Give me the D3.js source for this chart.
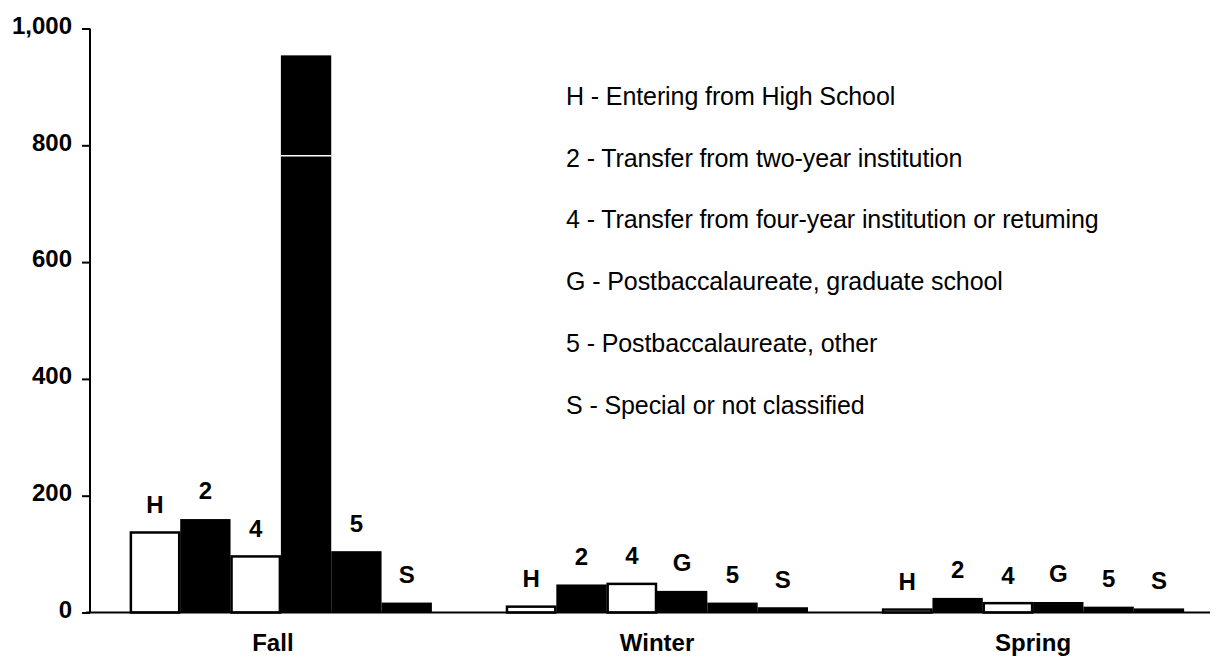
<!DOCTYPE html>
<html>
<head>
<meta charset="utf-8">
<script src="https://cdn.jsdelivr.net/npm/d3@7"></script>
<style>
  html, body { margin: 0; padding: 0; background: #fff; }
  svg { display: block; font-family: "Liberation Sans", Arial, Helvetica, sans-serif; }
</style>
</head>
<body>
<svg id="chart" width="1217" height="660"></svg>
<script>
// ---- data ----
const terms = ["Fall", "Winter", "Spring"];
const codes = ["H", "2", "4", "G", "5", "S"];
const fallValues   = [137, 160, 96, 954, 105, 17];
const winterValues = [10, 48, 49, 37, 17, 9];
const springValues = [5, 25, 16, 18, 10, 7];
const fallGSegments = [782, 172];           // big Fall G bar drawn as two stacked pieces
const hiddenLabels = [["Fall", "G"]];       // bar letters not printed
const codeFill = { H: "#fff", "2": "#000", "4": "#fff", G: "#000", "5": "#000", S: "#000" };
const yTicks = [0, 200, 400, 600, 800, 1000];
const legendLines = [
  "H - Entering from High School",
  "2 - Transfer from two-year institution",
  "4 - Transfer from four-year institution or retuming",
  "G - Postbaccalaureate, graduate school",
  "5 - Postbaccalaureate, other",
  "S - Special or not classified"
];

const valuesByTerm = { Fall: fallValues, Winter: winterValues, Spring: springValues };
const rows = [];
terms.forEach(t => codes.forEach((c, i) => rows.push({ term: t, code: c, value: valuesByTerm[t][i] })));

// ---- layout ----
const svg = d3.select("#chart");
const axisX = 90, baseY = 612.5, topY = 28.5;

const y = d3.scaleLinear().domain([0, 1000]).range([baseY, topY]);
const x0 = d3.scaleBand().domain(terms).range([axisX, 1224]).paddingInner(0.197).paddingOuter(0.106);
const x1 = d3.scaleBand().domain(codes).range([0, x0.bandwidth()]).padding(0);

// bars
const g = svg.append("g");
rows.forEach(d => {
  const bx = x0(d.term) + x1(d.code);
  if (d.term === "Fall" && d.code === "G") {
    let acc = 0;
    fallGSegments.forEach(v => {
      g.append("rect")
        .attr("x", bx).attr("width", x1.bandwidth())
        .attr("y", y(acc + v)).attr("height", y(acc) - y(acc + v))
        .attr("fill", "#000");
      acc += v;
    });
    // thin white seam between the two pieces
    g.append("line")
      .attr("x1", bx).attr("x2", bx + x1.bandwidth())
      .attr("y1", y(fallGSegments[0])).attr("y2", y(fallGSegments[0]))
      .attr("stroke", "#fff").attr("stroke-width", 1.5);
  } else {
    const white = codeFill[d.code] === "#fff";
    g.append("rect")
      .attr("x", bx + (white ? 1 : 0))
      .attr("width", x1.bandwidth() - (white ? 2 : 0))
      .attr("y", y(d.value)).attr("height", baseY - y(d.value))
      .attr("fill", codeFill[d.code])
      .attr("stroke", white ? "#000" : "none")
      .attr("stroke-width", 2.5);
  }
});

// bar letters
rows.forEach(d => {
  if (hiddenLabels.some(h => h[0] === d.term && h[1] === d.code)) return;
  svg.append("text")
    .attr("x", x0(d.term) + x1(d.code) + x1.bandwidth() / 2)
    .attr("y", y(d.value) - 28)
    .attr("dy", "0.35em")
    .attr("text-anchor", "middle")
    .attr("font-weight", "bold")
    .attr("font-size", 24)
    .text(d.code);
});

// y axis
const yAxis = d3.axisLeft(y).tickValues(yTicks).tickSize(8).tickPadding(10)
  .tickFormat(d3.format(","));
const ya = svg.append("g").attr("transform", `translate(${axisX},0)`).call(yAxis);
ya.select(".domain").attr("d", `M0,${topY}V${baseY}`).attr("stroke", "#000").attr("stroke-width", 2);
ya.selectAll(".tick line").attr("stroke", "#000").attr("stroke-width", 2);
ya.selectAll(".tick text")
  .attr("font-family", "'Liberation Sans', Arial, sans-serif")
  .attr("font-size", 24).attr("font-weight", "bold").attr("fill", "#000")
  .attr("dy", "0.2em");

// baseline
svg.append("line").attr("x1", 86).attr("x2", 1210)
  .attr("y1", baseY).attr("y2", baseY).attr("stroke", "#000").attr("stroke-width", 2);

// category labels
terms.forEach(t => {
  svg.append("text")
    .attr("x", x0(t) + x0.bandwidth() / 2 - (t === "Fall" ? 8 : 0))
    .attr("y", 651)
    .attr("text-anchor", "middle")
    .attr("font-weight", "bold")
    .attr("font-size", 24)
    .text(t);
});

// legend
legendLines.forEach((s, i) => {
  svg.append("text")
    .attr("x", 566)
    .attr("y", 96 + i * 61.8)
    .attr("dy", "0.35em")
    .attr("font-size", 25)
    .attr("letter-spacing", "-0.1px")
    .text(s);
});
</script>
</body>
</html>
